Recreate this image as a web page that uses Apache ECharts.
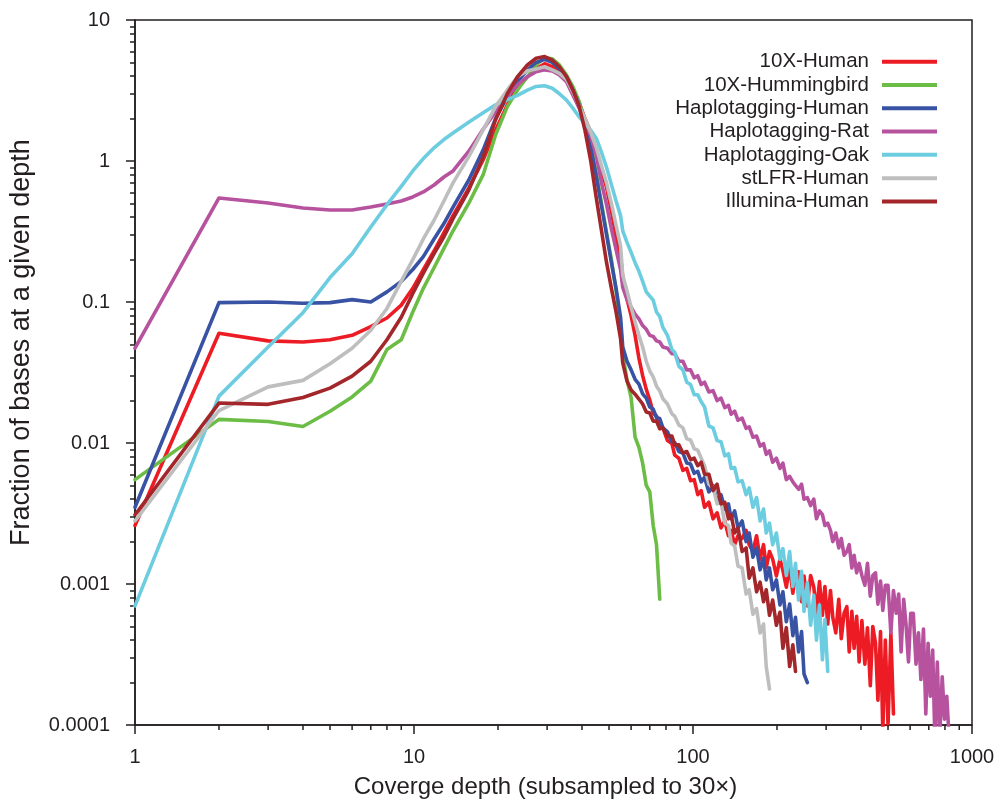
<!DOCTYPE html>
<html><head><meta charset="utf-8">
<script src="https://cdn.jsdelivr.net/npm/echarts@6/dist/echarts.min.js"></script>
<style>html,body{margin:0;padding:0;background:#fff}#c{width:999px;height:800px}</style>
</head><body><div id="c"></div>
<script>
// Coverage depth (x) shared by all series
const DEPTH = [1,2,3,4,5,6,7,8,9,9.9,10.8,11.8,12.8,13.8,15.7,17.7,19.6,21.6,23.5,25.5,27.4,29.4,31.3,33.2,35.2,37.1,39.1,
41,43,45,47,49,51,53,55,56,58,
60,62,64,66,68,70,72,74,76,78,
81,84,86,89,92,95,98,101,104,107,
110,114,118,122,126,130,134,137,141,145,
150,155,159,164,169,174,179,183,188,193,
199,205,210,216,222,228,233,239,245,250,
257,264,271,277,284,291,297,304,311,317,
325,333,340,348,356,363,371,378,386,394,
403,413,422,432,441,451,460,470,479,489,
500,512,523,535,546,557,569,580,592,603,
616,630,643,656,670,683,696,709,723,736,
751,766,782,797,812,828];

const SERIES_NAMES = ['10X-Human','10X-Hummingbird','Haplotagging-Human','Haplotagging-Rat','Haplotagging-Oak','stLFR-Human','Illumina-Human'];
const SERIES_COLORS = ['#ed1c24','#6cbd45','#3953a4','#b7529e','#6dcde0','#bebebe','#a3262a'];

const TENX_HUMAN = [0.0026,0.060,0.053,0.052,0.054,0.058,0.067,0.077,0.095,0.125,0.17,0.23,0.31,0.41,0.64,1.02,1.65,2.5,3.37,3.96,4.5,4.9,4.66,4.3,3.79,3.19,2.57,
2.0,1.6,1.2,0.85,0.65,0.44,0.29,0.21,0.15,0.105,
0.08,0.058,0.04,0.03,0.024,0.0202,0.0163,0.0155,0.0132,0.0128,
0.0104,0.0099,0.0082,0.0078,0.0064,0.0066,0.0054,0.0055,0.0043,0.0046,
0.0035,0.0038,0.0029,0.0032,0.0025,0.0028,0.0022,0.0024,0.0019,0.0022,
0.0021,0.0024,0.0019,0.0017,0.0022,0.0015,0.0019,0.0013,0.0017,0.0015,
0.00114,0.0015,0.00125,0.00095,0.00134,0.00086,0.0012,0.00122,0.00075,0.00114,
0.0007,0.00115,0.00095,0.00062,0.00104,0.0006,0.00096,0.00052,0.0009,0.00058,
0.00045,0.00078,0.00041,0.00062,0.00069,0.00033,0.00064,0.00035,0.00059,0.00028,
0.00055,0.00027,0.00049,0.00019,0.0005,0.00038,0.00015,0.00046,0.00009,0.0004,
0.0001,0.00045,0.00012];

const TENX_HUMMINGBIRD = [0.0055,0.0147,0.0142,0.0131,0.0168,0.0212,0.0275,0.046,0.054,0.085,0.125,0.175,0.24,0.32,0.5,0.8,1.53,2.43,3.19,3.96,4.8,5.4,5.3,4.8,4.07,3.37,2.63,
1.9,1.3,0.82,0.5,0.31,0.2,0.12,0.07,0.043,0.028,
0.021,0.011,0.0093,0.0072,0.005,0.0045,0.0026,0.0019,0.00078];

const HAPLO_HUMAN = [0.0035,0.099,0.1,0.098,0.099,0.104,0.1,0.118,0.14,0.17,0.21,0.28,0.36,0.47,0.73,1.2,2.0,2.86,3.65,4.43,5.0,5.26,5.0,4.5,3.96,3.19,2.5,
1.75,1.25,0.78,0.48,0.3,0.19,0.125,0.078,0.048,0.038,
0.033,0.0283,0.0262,0.0223,0.0208,0.018,0.0174,0.0151,0.0149,0.0128,
0.0120,0.0102,0.0101,0.0087,0.0085,0.0072,0.0071,0.0061,0.0063,0.0053,
0.0057,0.0045,0.0050,0.0039,0.0043,0.0034,0.0037,0.0029,0.0033,0.0025,
0.0028,0.0020,0.0023,0.00155,0.0018,0.00126,0.00152,0.00107,0.0013,0.00091,
0.00107,0.00071,0.00088,0.00054,0.00072,0.00043,0.00058,0.00033,0.00046,0.00023,
0.0002];

const HAPLO_RAT = [0.047,0.547,0.504,0.464,0.449,0.449,0.472,0.496,0.52,0.556,0.603,0.676,0.77,0.85,1.17,1.68,2.24,2.86,3.46,3.96,4.3,4.43,4.35,4.07,3.65,2.94,2.37,
1.9,1.5,1.1,0.7,0.49,0.33,0.235,0.17,0.127,0.104,
0.092,0.082,0.076,0.068,0.064,0.058,0.057,0.053,0.052,0.048,
0.047,0.043,0.043,0.038,0.038,0.033,0.033,0.029,0.030,0.026,
0.027,0.023,0.0235,0.020,0.0208,0.0178,0.0185,0.016,0.0168,0.0145,
0.015,0.0127,0.013,0.011,0.0112,0.0095,0.0099,0.0083,0.0088,0.0073,
0.0078,0.0066,0.0072,0.0055,0.0058,0.0053,0.0050,0.0047,0.0051,0.0040,
0.0041,0.0036,0.0040,0.0029,0.0033,0.0031,0.0026,0.0027,0.0024,0.0020,
0.0023,0.0018,0.0021,0.0016,0.0017,0.0019,0.0013,0.0016,0.0012,0.0014,
0.00115,0.00098,0.0014,0.00082,0.00115,0.0012,0.00072,0.00105,0.00065,0.00098,
0.00098,0.00045,0.0009,0.00062,0.00085,0.00033,0.00078,0.00052,0.00028,0.00062,
0.00062,0.00027,0.00045,0.00021,0.00048,0.00012,0.00038,0.00016,0.00034,0.00008,
0.00028,0.00008,0.00022,0.00011,0.00016,0.00008];

const HAPLO_OAK = [0.0007,0.0215,0.048,0.084,0.149,0.22,0.34,0.49,0.66,0.85,1.04,1.24,1.42,1.58,1.88,2.2,2.5,2.72,2.92,3.18,3.38,3.42,3.28,3.0,2.7,2.37,2.05,
1.85,1.65,1.45,1.15,0.9,0.68,0.52,0.41,0.32,0.265,
0.225,0.19,0.165,0.14,0.118,0.110,0.103,0.085,0.079,0.066,
0.058,0.046,0.044,0.035,0.033,0.027,0.026,0.022,0.022,0.0196,
0.0180,0.0132,0.0128,0.0104,0.0102,0.0081,0.0084,0.0066,0.0067,0.0053,
0.0054,0.0043,0.0048,0.0035,0.0041,0.0028,0.0034,0.0023,0.0027,0.0019,
0.0023,0.0015,0.00178,0.00115,0.0017,0.00096,0.0014,0.00077,0.00123,0.00064,
0.00102,0.00051,0.00083,0.0004,0.00071,0.00029,0.00056,0.00024];

const STLFR_HUMAN = [0.0028,0.017,0.025,0.0278,0.0365,0.047,0.063,0.09,0.14,0.2,0.28,0.38,0.52,0.7,1.07,1.66,2.43,3.19,3.96,4.37,4.5,4.66,4.43,4.19,3.79,3.1,2.45,
2.0,1.6,1.25,0.92,0.7,0.5,0.35,0.25,0.155,0.12,
0.092,0.072,0.058,0.048,0.038,0.0324,0.0294,0.0253,0.0234,0.0206,
0.0189,0.0161,0.0155,0.0134,0.0128,0.0107,0.0105,0.0091,0.0089,0.0078,
0.0069,0.0051,0.0049,0.0037,0.0038,0.0027,0.0026,0.00195,0.00186,0.00134,
0.0013,0.00085,0.00091,0.00061,0.00067,0.00045,0.00052,0.00026,0.00018];

const ILLUMINA_HUMAN = [0.0031,0.0192,0.0188,0.021,0.0245,0.0298,0.038,0.054,0.078,0.115,0.16,0.22,0.29,0.39,0.62,1.07,1.96,3.0,3.96,4.8,5.35,5.5,5.2,4.66,3.96,3.19,2.43,
1.65,1.0,0.55,0.32,0.19,0.125,0.085,0.055,0.037,0.0275,
0.0238,0.0222,0.0205,0.0189,0.0166,0.0163,0.0143,0.0143,0.0126,0.0128,
0.0112,0.0112,0.0097,0.0097,0.0085,0.0087,0.0076,0.0078,0.0069,0.0073,
0.0060,0.0060,0.0046,0.0051,0.0037,0.0038,0.0029,0.0031,0.0023,0.0025,
0.0017,0.0018,0.0011,0.0013,0.00088,0.00103,0.00075,0.00091,0.0006,0.00077,
0.00051,0.00063,0.00035,0.00049,0.00026,0.00037,0.00024];

const SERIES_VALUES = [TENX_HUMAN, TENX_HUMMINGBIRD, HAPLO_HUMAN, HAPLO_RAT, HAPLO_OAK, STLFR_HUMAN, ILLUMINA_HUMAN];

const X_RANGE = [1, 1000];
const Y_RANGE = [0.0001, 10];
const X_DECADES = [1, 10, 100];
const Y_DECADES = [0.0001, 0.001, 0.01, 0.1, 1];
const MINOR_FACTORS = [2, 3, 4, 5, 6, 7, 8, 9];

const X_TITLE = 'Coverge depth (subsampled to 30×)';
const Y_TITLE = 'Fraction of bases at a given depth';

const FONT = '"Liberation Sans", Arial, Helvetica, sans-serif';
const INK = '#231f20';

function minorValues(decades) {
  const out = [];
  decades.forEach(d => MINOR_FACTORS.forEach(f => out.push(+(d * f).toPrecision(3))));
  return out;
}
function fmt(v) { return String(+Number(v).toPrecision(1)); }

const chart = echarts.init(document.getElementById('c'), null, {renderer: 'canvas'});

const series = SERIES_NAMES.map((name, k) => ({
  name: name,
  type: 'line',
  xAxisIndex: 0,
  yAxisIndex: 0,
  data: SERIES_VALUES[k].map((v, i) => [DEPTH[i], v]),
  showSymbol: false,
  symbol: 'none',
  color: SERIES_COLORS[k],
  lineStyle: {width: 3.6, color: SERIES_COLORS[k], join: 'round', cap: 'round'},
  emphasis: {disabled: true},
  silent: true,
  clip: true
}));

chart.setOption({
  animation: false,
  backgroundColor: '#fff',
  textStyle: {fontFamily: FONT},
  grid: {left: 135, right: 27, top: 20, bottom: 75, show: true, borderColor: INK, borderWidth: 1.5,
         containLabel: false, outerBoundsMode: 'none'},
  legend: {
    orient: 'vertical', right: 62, top: 50, padding: 0, align: 'right',
    icon: 'rect', itemWidth: 55, itemHeight: 4, itemGap: 0,
    data: SERIES_NAMES,
    textStyle: {fontFamily: FONT, fontSize: 20.5, lineHeight: 23.3, color: INK, padding: [0, 8, 0, 0]},
    selectedMode: false
  },
  xAxis: [
    {type: 'log', logBase: 10, min: X_RANGE[0], max: X_RANGE[1], position: 'bottom',
     name: X_TITLE, nameLocation: 'middle', nameGap: 50,
     nameTextStyle: {fontFamily: FONT, fontSize: 24, color: INK, padding: [0, 16, 0, 0]},
     axisLine: {show: true, onZero: false, lineStyle: {color: INK, width: 1.5}},
     axisTick: {show: true, length: 9, inside: false, lineStyle: {color: INK, width: 1.5}},
     axisLabel: {fontFamily: FONT, fontSize: 20, color: INK, margin: 22, formatter: fmt},
     splitLine: {show: false}, minorTick: {show: false}}
  ],
  yAxis: [
    {type: 'log', logBase: 10, min: Y_RANGE[0], max: Y_RANGE[1], position: 'left',
     name: Y_TITLE, nameLocation: 'middle', nameGap: 100,
     nameTextStyle: {fontFamily: FONT, fontSize: 27, color: INK, padding: [0, 0, 0, 60]},
     axisLine: {show: true, onZero: false, lineStyle: {color: INK, width: 1.5}},
     axisTick: {show: true, length: 9, inside: false, lineStyle: {color: INK, width: 1.5}},
     axisLabel: {fontFamily: FONT, fontSize: 20, color: INK, margin: 25, formatter: fmt},
     splitLine: {show: false}, minorTick: {show: false}},
    {type: 'value', min: Math.log10(Y_RANGE[0]), max: Math.log10(Y_RANGE[1]), position: 'left',
     axisLine: {show: false, onZero: false}, axisLabel: {show: false}, splitLine: {show: false},
     axisTick: {show: true, length: 5, inside: false, lineStyle: {color: INK, width: 1.5},
                customValues: minorValues(Y_DECADES).map(v => Math.log10(v))}}
  ],
  series: series
});

// minor ticks of the log x axis, positioned through the chart's own axis scale
const xMinorTicks = minorValues(X_DECADES).map(v => {
  const p = chart.convertToPixel({gridIndex: 0}, [v, Y_RANGE[0]]);
  return {type: 'line', silent: true, z: 100,
          shape: {x1: p[0], y1: p[1], x2: p[0], y2: p[1] + 5},
          style: {stroke: INK, lineWidth: 1.5}};
});
chart.setOption({graphic: {elements: xMinorTicks}});
</script>
</body></html>
